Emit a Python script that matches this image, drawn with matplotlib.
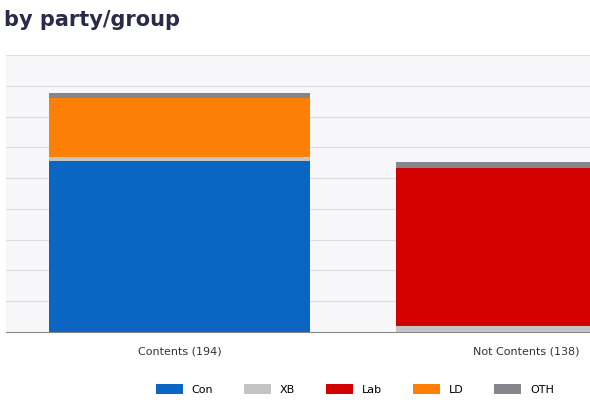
import matplotlib
matplotlib.use("Agg")
import matplotlib.pyplot as plt
import numpy as np

categories = ["Contents (194)", "Not Contents (138)"]
series = ["Con", "XB", "Lab", "LD", "OTH"]
values = {
    "Con": [139, 0],
    "XB": [3, 5],
    "Lab": [0, 128],
    "LD": [48, 0],
    "OTH": [4, 5],
}
colors = {"Con": "#0a66c2", "XB": "#c4c4c4", "Lab": "#d30000", "LD": "#fb8005", "OTH": "#85858c"}

W, H = 590, 410
fig = plt.figure(figsize=(W/100, H/100), dpi=100)
fig.patch.set_facecolor("white")
ax = fig.add_axes([6/W, (H-333)/H, 694/W, 277/H])
ax.set_facecolor("#f7f7fa")
x = np.arange(len(categories))
bottom = np.zeros(len(categories))
for s in series:
    v = np.array(values[s], dtype=float)
    ax.bar(x, v, 0.75, bottom=bottom, color=colors[s], label=s, zorder=3)
    bottom += v
ax.set_xlim(-0.5, 1.5)
ax.set_ylim(0, 225)
ax.set_yticks(np.arange(0, 226, 25))
ax.tick_params(axis="y", left=False, labelleft=False)
ax.tick_params(axis="x", length=0, pad=10, labelsize=8, colors="#333333")
ax.set_xticks(x)
ax.set_xticklabels(categories)
ax.grid(axis="y", color="#dcdce3", linewidth=0.8, zorder=0)
for sp in ["top", "right", "left"]:
    ax.spines[sp].set_visible(False)
ax.spines["bottom"].set_color("#888888")

fig.text(4/W, 1-20/H, "by party/group", fontsize=15, fontweight="bold", color="#2a2a4a", va="center")
leg = fig.legend(loc="center", bbox_to_anchor=(355/W, 1-390/H), ncol=5, frameon=False,
                 fontsize=8, handlelength=2.4, handleheight=1.0, columnspacing=2.8, handletextpad=0.8)
plt.savefig("out.png", dpi=100, facecolor="white")
